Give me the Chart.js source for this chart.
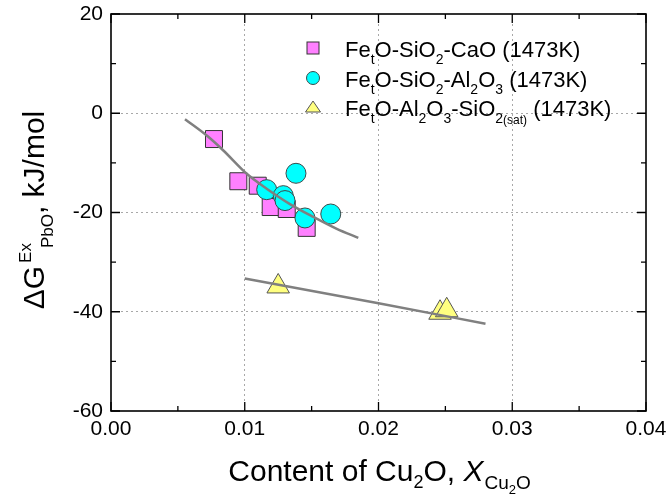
<!DOCTYPE html>
<html>
<head>
<meta charset="utf-8">
<script src="https://cdn.jsdelivr.net/npm/chart.js@4/dist/chart.umd.min.js"></script>
<style>
  html, body { margin: 0; padding: 0; background: #ffffff; }
  #c { display: block; }
</style>
</head>
<body>
<canvas id="c" width="669" height="499"></canvas>
<script>
// ---------------- data ----------------
const squareX = [0.0077, 0.00952, 0.01097, 0.01194, 0.01314, 0.01463];
const squareY = [-5.2, -13.7, -14.6, -18.9, -19.3, -23.1];

const circleX = [0.01164, 0.01288, 0.01301, 0.01383, 0.01450, 0.01643];
const circleY = [-15.4, -16.6, -17.6, -12.1, -21.1, -20.3];

const triangleX = [0.0125, 0.0246, 0.0251];
const triangleY = [-34.9, -40.2, -39.7];

const fit1X = [0.00553, 0.00716, 0.0084, 0.01015, 0.01164, 0.01338, 0.01513, 0.01688, 0.01849];
const fit1Y = [-1.2, -4.5, -7.5, -12.2, -15.2, -18.3, -20.9, -23.3, -25.1];

const fit2X = [0.0100, 0.0200, 0.0280];
const fit2Y = [-33.3, -38.3, -42.4];

const xTicks = [0, 0.01, 0.02, 0.03, 0.04];
const yTicks = [-60, -40, -20, 0, 20];

const seriesLabels = [
  'FetO-SiO2-CaO (1473K)',
  'FetO-SiO2-Al2O3 (1473K)',
  'FetO-Al2O3-SiO2(sat) (1473K)'
];

// ---------------- helpers ----------------
const FAMILY = '"Liberation Sans", Arial, Helvetica, sans-serif';
const zip = (xs, ys) => xs.map((x, i) => ({ x: x, y: ys[i] }));

function fontOf(s) {
  return (s.italic ? 'italic ' : '') + s.size + 'px ' + FAMILY;
}
function drawRich(ctx, segs, x, y, align) {
  let total = 0;
  for (const s of segs) {
    ctx.font = fontOf(s);
    s.w = ctx.measureText(s.t).width;
    total += s.w + (s.dx || 0);
  }
  let cx = align === 'center' ? x - total / 2 : x;
  ctx.textAlign = 'left';
  ctx.textBaseline = 'alphabetic';
  for (const s of segs) {
    ctx.font = fontOf(s);
    cx += (s.dx || 0);
    ctx.fillText(s.t, cx, y + (s.dy || 0));
    cx += s.w;
  }
}

const SQ = { bg: '#ff80ff', border: '#333333' };
const CI = { bg: '#00ffff', border: '#3a4a4a' };
const TR = { bg: '#ffff80', border: '#555555' };

// ---------------- custom drawing plugin ----------------
const decor = {
  id: 'decor',
  afterDraw(chart) {
    const ctx = chart.ctx;
    const a = chart.chartArea;
    const xs = chart.scales.x, ys = chart.scales.y;
    ctx.save();

    // frame
    ctx.strokeStyle = '#000';
    ctx.lineWidth = 1.6;
    ctx.strokeRect(a.left, a.top, a.right - a.left, a.bottom - a.top);

    // inward ticks
    ctx.lineWidth = 1.3;
    ctx.beginPath();
    for (let i = 0; i <= 8; i++) {
      const v = -60 + i * 10;
      const p = ys.getPixelForValue(v);
      const len = (i % 2 === 0) ? 9 : 5;
      ctx.moveTo(a.left, p); ctx.lineTo(a.left + len, p);
      ctx.moveTo(a.right, p); ctx.lineTo(a.right - len, p);
    }
    for (let i = 0; i <= 8; i++) {
      const v = i * 0.005;
      const p = xs.getPixelForValue(v);
      const len = (i % 2 === 0) ? 9 : 5;
      ctx.moveTo(p, a.bottom); ctx.lineTo(p, a.bottom - len);
      ctx.moveTo(p, a.top); ctx.lineTo(p, a.top + len);
    }
    ctx.stroke();

    ctx.fillStyle = '#000';

    // y axis title (rotated)
    ctx.save();
    ctx.translate(44, 210);
    ctx.rotate(-Math.PI / 2);
    drawRich(ctx, [
      { t: '\u0394G', size: 30 },
      { t: 'Ex', size: 17, dy: -13, dx: 3 },
      { t: 'PbO', size: 17, dy: 9, dx: -5 },
      { t: ', kJ/mol', size: 30 }
    ], 0, 0, 'center');
    ctx.restore();

    // x axis title
    drawRich(ctx, [
      { t: 'Content of Cu', size: 30 },
      { t: '2', size: 18, dy: 7 },
      { t: 'O, ', size: 30 },
      { t: 'X', size: 30, italic: true },
      { t: 'Cu', size: 19, dy: 8, dx: 1 },
      { t: '2', size: 13, dy: 13 },
      { t: 'O', size: 19, dy: 8 }
    ], (a.left + a.right) / 2 + 1, 481, 'center');

    // legend
    const lx = 313, tx = 345;
    const rows = [48, 78, 107];
    const base = [57, 87, 116];
    ctx.lineWidth = 1;
    ctx.fillStyle = SQ.bg; ctx.strokeStyle = SQ.border;
    ctx.fillRect(lx - 6, rows[0] - 6, 12, 12);
    ctx.strokeRect(lx - 6, rows[0] - 6, 12, 12);
    ctx.fillStyle = CI.bg; ctx.strokeStyle = CI.border;
    ctx.beginPath(); ctx.arc(lx, rows[1], 6.5, 0, Math.PI * 2); ctx.fill(); ctx.stroke();
    ctx.fillStyle = TR.bg; ctx.strokeStyle = TR.border;
    ctx.beginPath();
    ctx.moveTo(lx, rows[2] - 6);
    ctx.lineTo(lx + 7.5, rows[2] + 5);
    ctx.lineTo(lx - 7.5, rows[2] + 5);
    ctx.closePath(); ctx.fill(); ctx.stroke();

    ctx.fillStyle = '#000';
    const F = 22, S = 14, D = 7;
    drawRich(ctx, [
      { t: 'Fe', size: F }, { t: 't', size: S, dy: D },
      { t: 'O-SiO', size: F }, { t: '2', size: S, dy: D },
      { t: '-CaO (1473K)', size: F }
    ], tx, base[0], 'left');
    drawRich(ctx, [
      { t: 'Fe', size: F }, { t: 't', size: S, dy: D },
      { t: 'O-SiO', size: F }, { t: '2', size: S, dy: D },
      { t: '-Al', size: F }, { t: '2', size: S, dy: D },
      { t: 'O', size: F }, { t: '3', size: S, dy: D },
      { t: ' (1473K)', size: F }
    ], tx, base[1], 'left');
    drawRich(ctx, [
      { t: 'Fe', size: F }, { t: 't', size: S, dy: D },
      { t: 'O-Al', size: F }, { t: '2', size: S, dy: D },
      { t: 'O', size: F }, { t: '3', size: S, dy: D },
      { t: '-SiO', size: F }, { t: '2', size: S, dy: D },
      { t: '(sat)', size: 12, dy: D + 1 },
      { t: ' (1473K)', size: F }
    ], tx, base[2], 'left');

    ctx.restore();
  }
};

const edgeGrid = (min, max) => (c) => {
  const v = c.tick ? c.tick.value : null;
  if (v === null) return 'rgba(0,0,0,0)';
  if (Math.abs(v - min) < 1e-9 || Math.abs(v - max) < 1e-9) return 'rgba(0,0,0,0)';
  return '#a8a8a8';
};

new Chart(document.getElementById('c').getContext('2d'), {
  type: 'scatter',
  data: {
    datasets: [
      {
        label: 'fit 1', data: zip(fit1X, fit1Y), showLine: true,
        borderColor: '#808080', borderWidth: 2.5, pointRadius: 0,
        cubicInterpolationMode: 'monotone', order: 0
      },
      {
        label: 'fit 2', data: zip(fit2X, fit2Y), showLine: true,
        borderColor: '#808080', borderWidth: 2.5, pointRadius: 0,
        cubicInterpolationMode: 'monotone', order: 0
      },
      {
        label: seriesLabels[1], data: zip(circleX, circleY),
        pointStyle: 'circle', pointRadius: 10, backgroundColor: CI.bg,
        borderColor: CI.border, borderWidth: 1, order: 1
      },
      {
        label: seriesLabels[0], data: zip(squareX, squareY),
        pointStyle: 'rect', pointRadius: 12, backgroundColor: SQ.bg,
        borderColor: SQ.border, borderWidth: 1, order: 2
      },
      {
        label: seriesLabels[2], data: zip(triangleX, triangleY),
        pointStyle: 'triangle', pointRadius: 13, backgroundColor: TR.bg,
        borderColor: TR.border, borderWidth: 1, order: 1
      }
    ]
  },
  options: {
    responsive: false,
    animation: false,
    devicePixelRatio: 1,
    layout: { padding: { left: 0, right: 23, top: 13, bottom: 0 } },
    plugins: { legend: { display: false }, tooltip: { enabled: false } },
    scales: {
      x: {
        type: 'linear', min: xTicks[0], max: xTicks[xTicks.length - 1],
        afterBuildTicks: (s) => { s.ticks = xTicks.map(v => ({ value: v })); },
        ticks: {
          callback: (v) => Number(v).toFixed(2),
          font: { size: 21, family: FAMILY }, color: '#000', padding: 6,
          maxRotation: 0, autoSkip: false
        },
        grid: { color: edgeGrid(0, 0.04), lineWidth: 1, drawTicks: false },
        border: { display: false, dash: [2, 3] },
        afterFit: (s) => {
          s.height = 88;
          s.paddingLeft = 0; s.paddingRight = 0; s.paddingTop = 0; s.paddingBottom = 0;
        }
      },
      y: {
        type: 'linear', min: yTicks[0], max: yTicks[yTicks.length - 1],
        afterBuildTicks: (s) => { s.ticks = yTicks.map(v => ({ value: v })); },
        ticks: {
          callback: (v) => String(v),
          font: { size: 21, family: FAMILY }, color: '#000', padding: 8,
          autoSkip: false
        },
        grid: { color: edgeGrid(-60, 20), lineWidth: 1, drawTicks: false },
        border: { display: false, dash: [2, 3] },
        afterFit: (s) => {
          s.width = 111;
          s.paddingLeft = 0; s.paddingRight = 0; s.paddingTop = 0; s.paddingBottom = 0;
        }
      }
    }
  },
  plugins: [decor]
});
</script>
</body>
</html>
